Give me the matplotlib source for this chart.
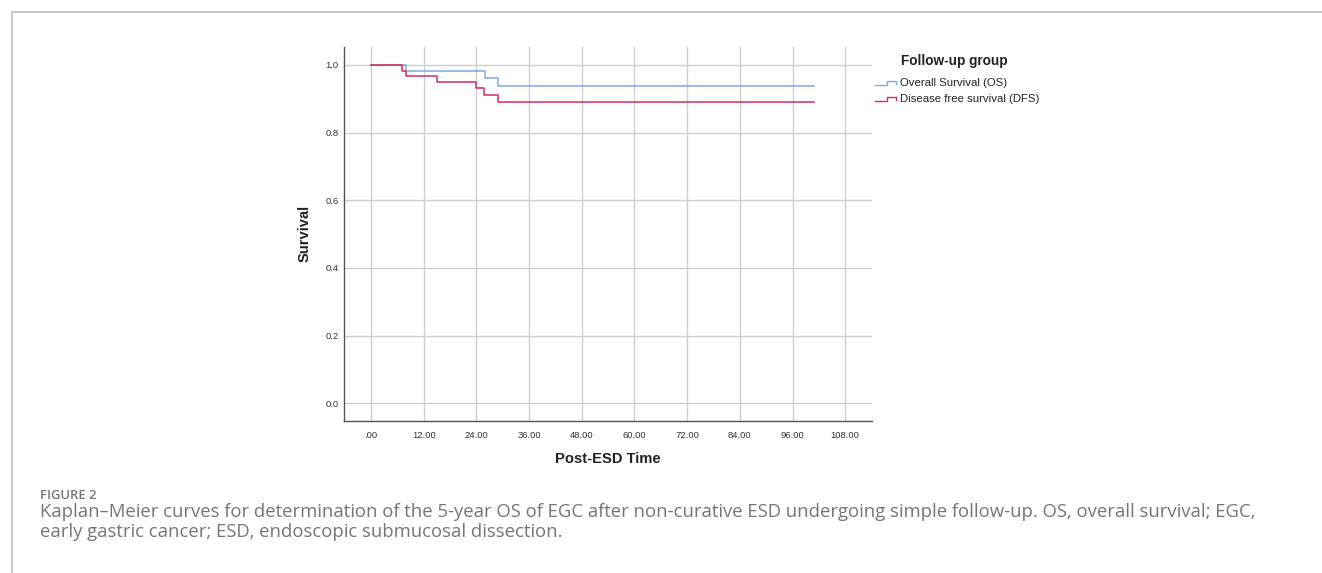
import matplotlib
matplotlib.use("Agg")
import matplotlib.pyplot as plt
from matplotlib.lines import Line2D

W, H = 1322, 573
plt.rcParams["font.family"] = ["Liberation Sans", "DejaVu Sans"]

# Kaplan-Meier step data (months, survival)
os_time = [0, 8.0, 25.9, 29.0, 101.0]
os_surv = [1.0, 0.982, 0.961, 0.939, 0.939]
dfs_time = [0, 7.0, 8.0, 15.0, 23.9, 25.8, 29.0, 101.0]
dfs_surv = [1.0, 0.981, 0.967, 0.950, 0.931, 0.910, 0.890, 0.890]

series_labels = ["Overall Survival (OS)", "Disease free survival (DFS)"]
series_colors = ["#7fa8e0", "#d42a5c"]
x_ticks = [0, 12, 24, 36, 48, 60, 72, 84, 96, 108]
x_ticklabels = [".00", "12.00", "24.00", "36.00", "48.00", "60.00", "72.00", "84.00", "96.00", "108.00"]
y_ticks = [0.0, 0.2, 0.4, 0.6, 0.8, 1.0]

caption_head = "FIGURE 2"
caption_lines = [
    "Kaplan\u2013Meier curves for determination of the 5-year OS of EGC after non-curative ESD undergoing simple follow-up. OS, overall survival; EGC,",
    "early gastric cancer; ESD, endoscopic submucosal dissection.",
]

GRID = "#cfcfcf"
SPINE = "#555555"
INK = "#222222"
CAPTION = "#757575"


def fx(x):
    return x / W


def fy(y):
    return 1 - y / H


fig = plt.figure(figsize=(W / 100, H / 100), dpi=100)

# axes box in pixel terms: left 344, right 872, top 47, bottom 421
ax = fig.add_axes([fx(344.3), fy(421.3), fx(872) - fx(344.3), fy(47) - fy(421.3)])
ax.set_xlim(-6.08, 114.1)
ax.set_ylim(-0.0532, 1.0532)

ax.step(os_time, os_surv, where="post", color=series_colors[0], lw=1.1, zorder=3)
ax.step(dfs_time, dfs_surv, where="post", color=series_colors[1], lw=1.1, zorder=4)

ax.set_xticks(x_ticks)
ax.set_xticklabels(x_ticklabels)
ax.set_yticks(y_ticks)
ax.set_yticklabels([f"{v:.1f}" for v in y_ticks])
ax.tick_params(axis="both", length=0, labelsize=6.8, labelcolor="#333333")
ax.tick_params(axis="x", pad=7)
ax.tick_params(axis="y", pad=4)
ax.grid(True, color=GRID, lw=1.0)
ax.set_axisbelow(True)
for s in ["top", "right"]:
    ax.spines[s].set_visible(False)
for s in ["left", "bottom"]:
    ax.spines[s].set_color(SPINE)
    ax.spines[s].set_linewidth(1.0)

fig.text(fx(608), fy(459.3), "Post-ESD Time", ha="center", va="center",
         fontsize=10.6, fontweight="bold", color=INK)
fig.text(fx(305), fy(233.5), "Survival", ha="center", va="center", rotation=90,
         fontsize=10.6, fontweight="bold", color=INK)

# legend, drawn by hand to mimic the SPSS step glyph
fig.text(fx(901), fy(61), "Follow-up group", ha="left", va="center",
         fontsize=9.8, fontweight="bold", color=INK)
for i, (lab, col) in enumerate(zip(series_labels, series_colors)):
    yc = 83.3 + 16 * i
    fig.text(fx(900.5), fy(yc), lab, ha="left", va="center", fontsize=8.2, color=INK)
    lo, hi = yc + 2.0, yc - 2.5
    gx = [875, 887, 887, 896, 896]
    gy = [lo, lo, hi, hi, hi + 3.0]
    fig.add_artist(Line2D([fx(v) for v in gx], [fy(v) for v in gy],
                          transform=fig.transFigure, color=col, lw=1.0))

# page frame
fig.add_artist(Line2D([fx(12), fx(W)], [fy(11.5), fy(11.5)], transform=fig.transFigure,
                      color="#c4c4c4", lw=1.3))
fig.add_artist(Line2D([fx(12), fx(12)], [fy(11.5), 0], transform=fig.transFigure,
                      color="#c4c4c4", lw=1.3))

# caption
cap_family = ["Open Sans", "DejaVu Sans"]
fig.text(fx(40), fy(499), caption_head, ha="left", va="baseline", fontsize=9.4,
         fontweight="semibold", color=CAPTION, family=cap_family)
for i, line in enumerate(caption_lines):
    fig.text(fx(40), fy(517.3 + 20 * i), line, ha="left", va="baseline",
             fontsize=13.3, color=CAPTION, family=cap_family)

fig.savefig("out.png", dpi=100)
